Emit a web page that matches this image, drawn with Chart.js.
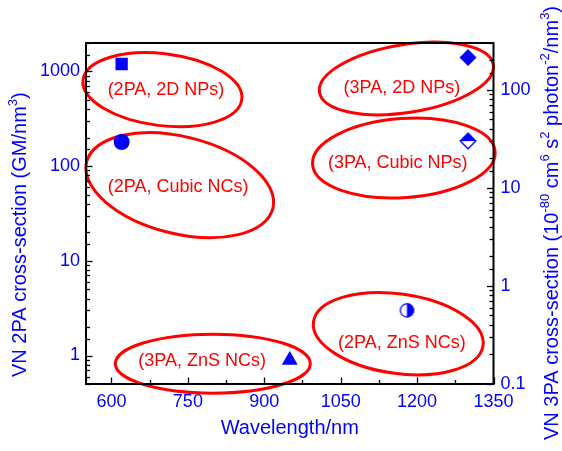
<!DOCTYPE html>
<html>
<head>
<meta charset="utf-8">
<script src="https://cdn.jsdelivr.net/npm/chart.js@4.4.0/dist/chart.umd.min.js"></script>
<style>
  html, body { margin: 0; padding: 0; background: #fff; }
  #wrap { width: 562px; height: 451px; }
</style>
</head>
<body>
<div id="wrap"><canvas id="chart" width="562" height="451"></canvas></div>
<script>
// 2PA values, left axis (GM/nm^3)
const samples2PA = ['2PA, 2D NPs', '2PA, Cubic NCs', '2PA, ZnS NCs'];
const wavelength2PA = [620, 620, 1180];
const sigma2PA = [1200, 180, 3];

// 3PA values, right axis (1e-80 cm^6 s^2 photon^-2 / nm^3)
const samples3PA = ['3PA, 2D NPs', '3PA, Cubic NPs', '3PA, ZnS NCs'];
const wavelength3PA = [1300, 1300, 950];
const sigma3PA = [214, 30, 0.175];

// tick labels
const xTicks = [600, 750, 900, 1050, 1200, 1350];
const y2PATicks = [1, 10, 100, 1000];
const y3PATicks = [0.1, 1, 10, 100];

const BLUE = 'rgb(0,0,255)';
const RED = 'rgb(255,0,0)';
const FONT = '"Liberation Sans", Arial, Helvetica, sans-serif';
Chart.defaults.font.family = FONT;

// red ellipses round each group, centre given in data units (x, left axis)
const groups = [
  { text: samples2PA[0], cx: 700, cy: 643, rx: 80, ry: 36, rot: 7, lx: 707, ly: 642 },
  { text: samples2PA[1], cx: 734, cy: 63, rx: 96, ry: 48.5, rot: 14, lx: 731, ly: 60.7 },
  { text: samples3PA[0], cx: 1179, cy: 843, rx: 88, ry: 34, rot: -9, lx: 1170, ly: 674 },
  { text: samples3PA[1], cx: 1174, cy: 122, rx: 91.5, ry: 39.5, rot: -4, lx: 1162, ly: 109 },
  { text: samples2PA[2], cx: 1163, cy: 1.70, rx: 85.6, ry: 39.8, rot: 8, lx: 1170, ly: 1.36 },
  { text: samples3PA[2], cx: 799, cy: 0.82, rx: 97.5, ry: 29.5, rot: 0, lx: 778, ly: 0.88 }
];

function halfCircle(r) {
  const s = Math.ceil(2 * r + 2);
  const c = document.createElement('canvas');
  c.width = c.height = s;
  const g = c.getContext('2d');
  const m = s / 2;
  g.fillStyle = '#fff';
  g.beginPath(); g.arc(m, m, r, 0, 2 * Math.PI); g.fill();
  g.fillStyle = BLUE;
  g.beginPath(); g.arc(m, m, r, -Math.PI / 2, Math.PI / 2); g.closePath(); g.fill();
  g.strokeStyle = BLUE; g.lineWidth = 1.3;
  g.beginPath(); g.arc(m, m, r - 0.65, 0, 2 * Math.PI); g.stroke();
  return c;
}

function halfDiamond(r) {
  const s = Math.ceil(2 * r + 2);
  const c = document.createElement('canvas');
  c.width = c.height = s;
  const g = c.getContext('2d');
  const m = s / 2;
  g.fillStyle = '#fff';
  g.beginPath(); g.moveTo(m, m - r); g.lineTo(m + r, m); g.lineTo(m, m + r); g.lineTo(m - r, m); g.closePath(); g.fill();
  g.fillStyle = BLUE;
  g.beginPath(); g.moveTo(m, m - r); g.lineTo(m + r, m); g.lineTo(m - r, m); g.closePath(); g.fill();
  g.strokeStyle = BLUE; g.lineWidth = 1.4;
  const q = r - 1;
  g.beginPath(); g.moveTo(m, m - q); g.lineTo(m + q, m); g.lineTo(m, m + q); g.lineTo(m - q, m); g.closePath(); g.stroke();
  return c;
}

const styles2PA = [
  { pointStyle: 'rect', radius: 8.7 },
  { pointStyle: 'circle', radius: 8 },
  { pointStyle: halfCircle(7.2), radius: 7 }
];
const styles3PA = [
  { pointStyle: 'rectRot', radius: 8.5 },
  { pointStyle: halfDiamond(8.7), radius: 8 },
  { pointStyle: 'triangle', radius: 9.2 }
];

const datasets = [];
samples2PA.forEach((name, i) => {
  datasets.push({
    label: name,
    data: [{ x: wavelength2PA[i], y: sigma2PA[i] }],
    yAxisID: 'y',
    pointStyle: styles2PA[i].pointStyle,
    pointRadius: styles2PA[i].radius,
    backgroundColor: BLUE,
    borderWidth: 0
  });
});
samples3PA.forEach((name, i) => {
  datasets.push({
    label: name,
    data: [{ x: wavelength3PA[i], y: sigma3PA[i] }],
    yAxisID: 'y2',
    pointStyle: styles3PA[i].pointStyle,
    pointRadius: styles3PA[i].radius,
    backgroundColor: BLUE,
    borderWidth: 0
  });
});

function drawRich(ctx, parts, x, y) {
  // draws text rotated -90deg, starting at (x, y) and running upwards
  ctx.save();
  ctx.translate(x, y);
  ctx.rotate(-Math.PI / 2);
  ctx.textAlign = 'left';
  ctx.textBaseline = 'middle';
  let pos = 0;
  parts.forEach(p => {
    ctx.font = (p.sup ? '13px ' : '20px ') + FONT;
    ctx.fillText(p.t, pos, p.sup ? -7 : 0);
    pos += ctx.measureText(p.t).width;
  });
  ctx.restore();
}

function inwardTicks(ctx, scale, area, side) {
  scale.ticks.forEach(t => {
    const v = t.value;
    let major;
    if (side === 'bottom') {
      major = xTicks.includes(v);
    } else {
      major = t.label !== '';
    }
    const len = major ? 6.5 : 4;
    const p = Math.round(scale.getPixelForValue(v)) + 0.5;
    ctx.beginPath();
    if (side === 'bottom') { ctx.moveTo(p, area.bottom); ctx.lineTo(p, area.bottom - len); }
    else if (side === 'left') { ctx.moveTo(area.left, p); ctx.lineTo(area.left + len, p); }
    else { ctx.moveTo(area.right, p); ctx.lineTo(area.right - len, p); }
    ctx.stroke();
  });
}

const decor = {
  id: 'decor',
  beforeDatasetsDraw(chart) {
    const { ctx, scales: { x, y } } = chart;
    ctx.save();
    ctx.strokeStyle = RED;
    ctx.lineWidth = 3;
    groups.forEach(g => {
      ctx.beginPath();
      ctx.ellipse(x.getPixelForValue(g.cx), y.getPixelForValue(g.cy), g.rx, g.ry, g.rot * Math.PI / 180, 0, 2 * Math.PI);
      ctx.stroke();
    });
    ctx.fillStyle = RED;
    ctx.font = '18px ' + FONT;
    ctx.textAlign = 'center';
    ctx.textBaseline = 'middle';
    groups.forEach(g => {
      ctx.fillText('(' + g.text + ')', x.getPixelForValue(g.lx), y.getPixelForValue(g.ly));
    });
    ctx.restore();
  },
  afterDraw(chart) {
    const { ctx, chartArea: a, scales } = chart;
    ctx.save();
    ctx.strokeStyle = '#000';
    ctx.lineWidth = 1.3;
    inwardTicks(ctx, scales.x, a, 'bottom');
    inwardTicks(ctx, scales.y, a, 'left');
    inwardTicks(ctx, scales.y2, a, 'right');
    ctx.lineWidth = 2;
    ctx.strokeRect(a.left, a.top, a.right - a.left, a.bottom - a.top);

    ctx.fillStyle = BLUE;
    ctx.font = '20px ' + FONT;
    ctx.textAlign = 'center';
    ctx.textBaseline = 'middle';
    ctx.fillText('Wavelength/nm', (a.left + a.right) / 2, 428);

    drawRich(ctx, [
      { t: 'VN 2PA cross-section (GM/nm' }, { t: '3', sup: true }, { t: ')' }
    ], 20, 377);
    drawRich(ctx, [
      { t: 'VN 3PA cross-section (10' }, { t: '-80', sup: true },
      { t: ' cm' }, { t: '6', sup: true },
      { t: ' s' }, { t: '2', sup: true },
      { t: ' photon' }, { t: '-2', sup: true },
      { t: '/nm' }, { t: '3', sup: true }, { t: ')' }
    ], 552, 440);
    ctx.restore();
  }
};

const tickFont = { size: 18 };

new Chart(document.getElementById('chart'), {
  type: 'scatter',
  data: { datasets: datasets },
  options: {
    responsive: false,
    animation: false,
    devicePixelRatio: 1,
    layout: { padding: { top: 43, left: 0, right: 0, bottom: 0 } },
    plugins: { legend: { display: false }, tooltip: { enabled: false } },
    scales: {
      x: {
        type: 'linear',
        min: 550,
        max: 1350,
        grid: { display: false, drawTicks: false },
        border: { display: false },
        afterBuildTicks: s => {
          const t = [];
          for (let v = xTicks[0]; v <= s.max; v += 75) t.push({ value: v });
          s.ticks = t;
        },
        ticks: {
          autoSkip: false,
          maxRotation: 0,
          padding: 7,
          color: BLUE,
          font: tickFont,
          callback: v => xTicks.includes(v) ? String(v) : ''
        },
        afterFit: s => { s.height = 67; }
      },
      y: {
        type: 'logarithmic',
        position: 'left',
        min: 0.5,
        max: 2000,
        grid: { display: false, drawTicks: false },
        border: { display: false },
        ticks: {
          autoSkip: false,
          padding: 6,
          color: BLUE,
          font: tickFont,
          callback: v => y2PATicks.includes(v) ? String(v) : ''
        },
        afterFit: s => { s.width = 86; }
      },
      y2: {
        type: 'logarithmic',
        position: 'right',
        min: 0.1,
        max: 300,
        grid: { display: false, drawTicks: false },
        border: { display: false },
        ticks: {
          autoSkip: false,
          padding: 7,
          color: BLUE,
          font: tickFont,
          callback: v => y3PATicks.includes(v) ? String(v) : ''
        },
        afterFit: s => { s.width = 68.5; }
      }
    }
  },
  plugins: [decor]
});
</script>
</body>
</html>
